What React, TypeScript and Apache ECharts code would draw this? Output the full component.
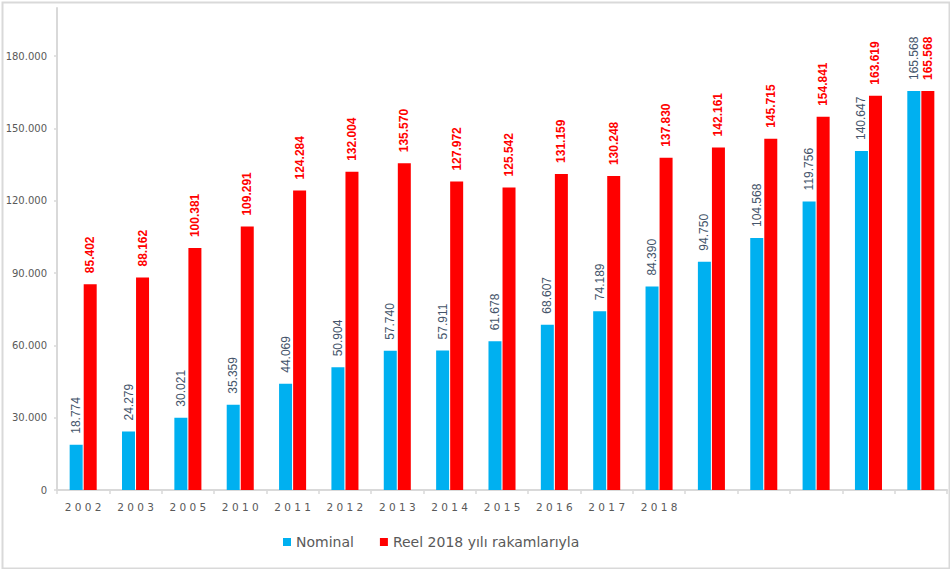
import React, { useEffect, useRef } from "react";
import * as echarts from "echarts";

const categories = ["2002", "2003", "2005", "2010", "2011", "2012", "2013", "2014", "2015", "2016", "2017", "2018", "", "", "", "", ""];
const nominal = [18774, 24279, 30021, 35359, 44069, 50904, 57740, 57911, 61678, 68607, 74189, 84390, 94750, 104568, 119756, 140647, 165568];
const reel = [85402, 88162, 100381, 109291, 124284, 132004, 135570, 127972, 125542, 131159, 130248, 137830, 142161, 145715, 154841, 163619, 165568];
const yTicks = [0, 30000, 60000, 90000, 120000, 150000, 180000];
const seriesNames = ["Nominal", "Reel 2018 yılı rakamlarıyla"];

const fmt = (v: number) => String(v).replace(/\B(?=(\d{3})+(?!\d))/g, ".");

export default function App() {
  const ref = useRef<HTMLDivElement>(null);
  useEffect(() => {
    if (!ref.current) return;
    const chart = echarts.init(ref.current, null, { renderer: "svg" });
    const grey = "#d9d9d9";
    const textGrey = "#595959";
    chart.setOption({
      animation: false,
      backgroundColor: "#ffffff",
      grid: { left: 57, right: 3, top: 8, bottom: 79, containLabel: false },
      legend: {
        data: seriesNames,
        left: 278,
        top: 530,
        icon: "rect",
        itemWidth: 8,
        itemHeight: 8,
        itemGap: 26,
        textStyle: { fontFamily: "DejaVu Sans", fontSize: 14, color: textGrey },
      },
      xAxis: {
        type: "category",
        data: categories,
        axisLine: { lineStyle: { color: grey, width: 2 } },
        axisTick: { show: true, alignWithLabel: false, length: 4, lineStyle: { color: grey, width: 1.5 } },
        axisLabel: {
          interval: 0,
          margin: 11,
          fontFamily: "DejaVu Sans",
          fontSize: 10.5,
          color: textGrey,
          formatter: (v: string) => v.split("").join(" "),
        },
      },
      yAxis: {
        type: "value",
        min: 0,
        max: 200000,
        interval: 30000,
        splitLine: { show: false },
        axisLine: { show: true, lineStyle: { color: grey, width: 2 } },
        axisTick: { show: true, length: 3, customValues: yTicks, lineStyle: { color: grey, width: 1.5 } },
        axisLabel: {
          customValues: yTicks,
          margin: 10,
          fontFamily: "DejaVu Sans",
          fontSize: 10,
          color: textGrey,
          formatter: (v: number) => fmt(v),
        },
      },
      series: [
        {
          name: seriesNames[0],
          type: "bar",
          data: nominal,
          barWidth: 13,
          barGap: "8%",
          itemStyle: { color: "#00b0f0" },
          label: {
            show: true,
            position: "top",
            rotate: 90,
            align: "left",
            verticalAlign: "middle",
            distance: 11,
            fontFamily: "Liberation Sans",
            fontSize: 12,
            color: "#44546a",
            formatter: (p: any) => fmt(p.value),
          },
        },
        {
          name: seriesNames[1],
          type: "bar",
          data: reel,
          barWidth: 13,
          itemStyle: { color: "#ff0000" },
          label: {
            show: true,
            position: "top",
            rotate: 90,
            align: "left",
            verticalAlign: "middle",
            distance: 11,
            fontFamily: "Liberation Sans",
            fontSize: 12,
            fontWeight: "bold",
            color: "#ff0000",
            formatter: (p: any) => fmt(p.value),
          },
        },
      ],
      graphic: [
        {
          type: "rect",
          left: 0,
          top: 0,
          shape: { x: 1, y: 1, width: 947, height: 566 },
          style: { fill: "none", stroke: grey, lineWidth: 2 },
          silent: true,
          z: 100,
        },
      ],
    });
    return () => chart.dispose();
  }, []);
  return (
    <div
      ref={ref}
      style={{ position: "fixed", left: 0, top: 0, width: 950, height: 569 }}
    />
  );
}
